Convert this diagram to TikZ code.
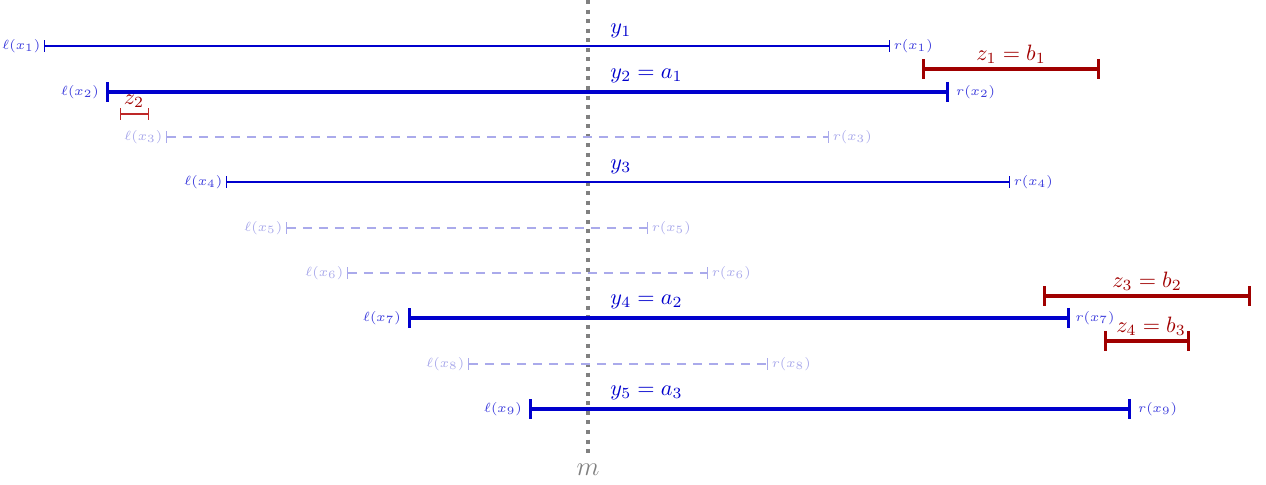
\documentclass[tikz,border=0pt]{standalone}
\usetikzlibrary{arrows.meta}
\definecolor{segblue}{RGB}{0,0,205}
\definecolor{lblblue}{RGB}{60,60,220}
\definecolor{faintblue}{RGB}{170,170,235}
\definecolor{segred}{RGB}{160,0,0}
\definecolor{zred}{RGB}{190,40,40}
\begin{document}
\begin{tikzpicture}[x=0.45pt,y=-0.45pt,
  thinseg/.style={segblue, line width=0.5pt, {Bar[width=5pt]}-{Bar[width=5pt]}},
  thickseg/.style={segblue, line width=1.4pt, {Bar[width=9pt]}-{Bar[width=9pt]}},
  faintseg/.style={faintblue, line width=0.5pt, dash pattern=on 4pt off 3.2pt, {Bar[width=5pt]}-{Bar[width=5pt]}},
  redseg/.style={segred, line width=1.4pt, {Bar[width=9pt]}-{Bar[width=9pt]}},
  smallred/.style={zred, line width=0.5pt, {Bar[width=5pt]}-{Bar[width=5pt]}},
  endl/.style={lblblue, font=\fontsize{6.2pt}{7pt}\selectfont, inner sep=1.5pt},
  faintl/.style={faintblue, font=\fontsize{6.2pt}{7pt}\selectfont, inner sep=1.5pt},
  ylab/.style={segblue, anchor=west, inner sep=0pt},
  zlab/.style={segred, inner sep=0pt},
  median/.style={gray, line width=1.8pt, dash pattern=on 1.8pt off 2.5pt}]
\useasboundingbox (0,0) rectangle (1266,485);
% median line
\coordinate (mtop) at (588,0);
\coordinate (mbot) at (588,455);
\draw[median] (mtop) -- (mbot);
\node[gray, font=\large, inner sep=0pt] (mlab) at (588,470) {$m$};
% blue segments
\coordinate (l1) at (44,46);   \coordinate (r1) at (890,46);
\coordinate (l2) at (106,92);  \coordinate (r2) at (949,92);
\coordinate (l3) at (166,137); \coordinate (r3) at (829,137);
\coordinate (l4) at (226,182); \coordinate (r4) at (1010,182);
\coordinate (l5) at (286,228); \coordinate (r5) at (648,228);
\coordinate (l6) at (347,273); \coordinate (r6) at (708,273);
\coordinate (l7) at (408,318); \coordinate (r7) at (1070,318);
\coordinate (l8) at (468,364); \coordinate (r8) at (768,364);
\coordinate (l9) at (529,409); \coordinate (r9) at (1131,409);
\draw[faintseg] (l3) -- (r3);
\draw[faintseg] (l5) -- (r5);
\draw[faintseg] (l6) -- (r6);
\draw[faintseg] (l8) -- (r8);
\draw[thinseg] (l1) -- (r1);
\draw[thinseg] (l4) -- (r4);
\draw[thickseg] (l2) -- (r2);
\draw[thickseg] (l7) -- (r7);
\draw[thickseg] (l9) -- (r9);
\node[endl, anchor=east] (ll1) at (l1) {$\ell(x_1)$};
\node[endl, anchor=west] (rl1) at (r1) {$r(x_1)$};
\node[endl, anchor=east, xshift=-1.5pt] (ll2) at (l2) {$\ell(x_2)$};
\node[endl, anchor=west, xshift=1.5pt] (rl2) at (r2) {$r(x_2)$};
\node[faintl, anchor=east] (ll3) at (l3) {$\ell(x_3)$};
\node[faintl, anchor=west] (rl3) at (r3) {$r(x_3)$};
\node[endl, anchor=east] (ll4) at (l4) {$\ell(x_4)$};
\node[endl, anchor=west] (rl4) at (r4) {$r(x_4)$};
\node[faintl, anchor=east] (ll5) at (l5) {$\ell(x_5)$};
\node[faintl, anchor=west] (rl5) at (r5) {$r(x_5)$};
\node[faintl, anchor=east] (ll6) at (l6) {$\ell(x_6)$};
\node[faintl, anchor=west] (rl6) at (r6) {$r(x_6)$};
\node[endl, anchor=east, xshift=-1.5pt] (ll7) at (l7) {$\ell(x_7)$};
\node[endl, anchor=west, xshift=0.8pt] (rl7) at (r7) {$r(x_7)$};
\node[faintl, anchor=east] (ll8) at (l8) {$\ell(x_8)$};
\node[faintl, anchor=west] (rl8) at (r8) {$r(x_8)$};
\node[endl, anchor=east, xshift=-1.5pt] (ll9) at (l9) {$\ell(x_9)$};
\node[endl, anchor=west, xshift=1.5pt] (rl9) at (r9) {$r(x_9)$};
% y labels
\node[ylab] (y1) at (610,31) {$y_1$};
\node[ylab] (y2) at (610,76) {$y_2 = a_1$};
\node[ylab] (y3) at (610,167) {$y_3$};
\node[ylab] (y4) at (610,302) {$y_4 = a_2$};
\node[ylab] (y5) at (610,393) {$y_5 = a_3$};
% red segments
\coordinate (zl1) at (922,69);  \coordinate (zr1) at (1100,69);
\coordinate (zl2) at (120,114); \coordinate (zr2) at (149,114);
\coordinate (zl3) at (1043,296); \coordinate (zr3) at (1251,296);
\coordinate (zl4) at (1104,341); \coordinate (zr4) at (1190,341);
\draw[redseg] (zl1) -- (zr1);
\draw[smallred] (zl2) -- (zr2);
\draw[redseg] (zl3) -- (zr3);
\draw[redseg] (zl4) -- (zr4);
\node[zlab] (z1) at (1011,54) {$z_1 = b_1$};
\node[zlab] (z2) at (134,101) {$z_2$};
\node[zlab] (z3) at (1147,281) {$z_3 = b_2$};
\node[zlab] (z4) at (1151,326) {$z_4 = b_3$};
\end{tikzpicture}
\end{document}
